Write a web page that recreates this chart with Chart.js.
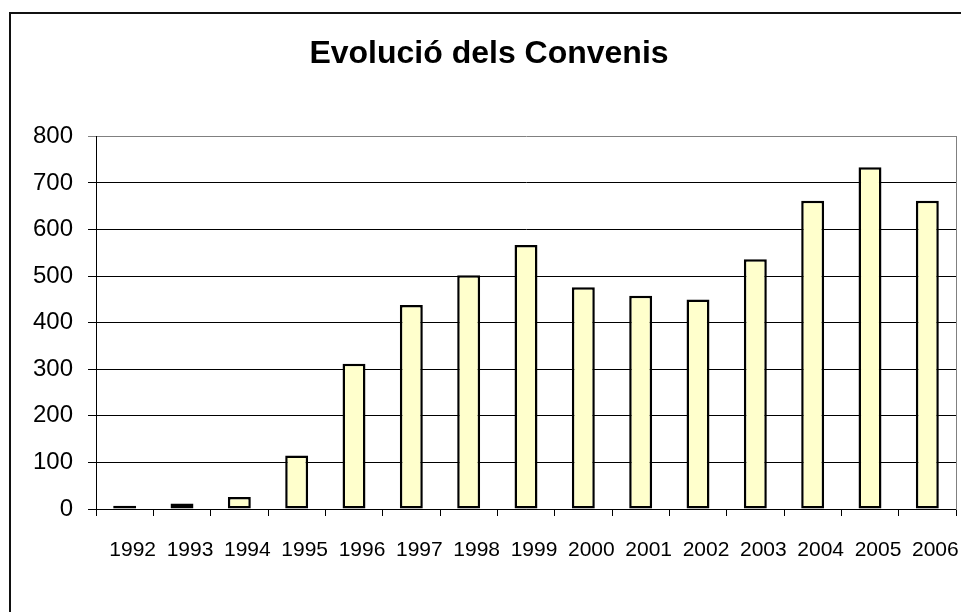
<!DOCTYPE html>
<html>
<head>
<meta charset="utf-8">
<script src="https://cdn.jsdelivr.net/npm/chart.js@4"></script>
<style>
  html, body { margin: 0; padding: 0; background: #fff; overflow: hidden; }
  #wrap { position: relative; width: 961px; height: 612px; }
  #frame { position: absolute; left: 9px; top: 12px; width: 1000px; height: 700px;
           border: 2px solid #111; pointer-events: none; }
</style>
</head>
<body>
<div id="wrap">
  <canvas id="chart" width="961" height="612"></canvas>
  <div id="frame"></div>
</div>
<script>
const years = ["1992", "1993", "1994", "1995", "1996", "1997", "1998", "1999",
               "2000", "2001", "2002", "2003", "2004", "2005", "2006"];
const convenis = [7, 12, 26, 115, 312, 438, 502, 567, 476, 458, 450, 536, 662, 734, 662];
const yTicks = [0, 100, 200, 300, 400, 500, 600, 700, 800];

document.addEventListener("DOMContentLoaded", function() {
    const ctx = document.getElementById('chart');

    new Chart(ctx, {
        type: 'bar',
        data: {
            labels: years,
            datasets: [{
                label: 'Convenis',
                data: convenis,
                backgroundColor: '#FFFFCC',
                borderColor: '#000',
                borderWidth: 2.5,
                borderSkipped: false,
                categoryPercentage: 1,
                barPercentage: 0.4,
            }]
        },
        options: {
            responsive: false,
            animation: false,
            layout: { padding: { left: 22, right: 5, top: 0, bottom: 0 } },
            plugins: {
                legend: { display: false },
                tooltip: { enabled: false },
                title: {
                    display: true,
                    text: 'Evolució dels Convenis',
                    color: '#000',
                    font: { family: 'Liberation Sans, Arial, sans-serif', size: 32, weight: 'bold' },
                    padding: { top: 35, bottom: 63 }
                }
            },
            scales: {
                x: {
                    grid: {
                        offset: true,
                        drawOnChartArea: false,
                        color: '#000',
                        tickLength: 7,
                    },
                    border: { color: '#000', width: 1 },
                    ticks: {
                        color: '#000',
                        padding: 22,
                        labelOffset: 8,
                        maxRotation: 0,
                        font: { family: 'Liberation Sans, Arial, sans-serif', size: 21 }
                    },
                    afterFit: function(scale) {
                        scale.height = 103;
                        scale.paddingLeft = 0;
                        scale.paddingRight = 0;
                    }
                },
                y: {
                    min: 0,
                    max: 800,
                    afterBuildTicks: function(scale) {
                        scale.ticks = yTicks.map(v => ({ value: v }));
                    },
                    grid: {
                        color: function(c) { return c.tick && c.tick.value === 800 ? '#808080' : '#000'; },
                        tickLength: 8,
                    },
                    border: { color: '#000', width: 1 },
                    ticks: {
                        color: '#000',
                        padding: 15,
                        font: { family: 'Liberation Sans, Arial, sans-serif', size: 24 }
                    },
                    afterFit: function(scale) {
                        scale.width = 74;
                        scale.paddingTop = 0;
                        scale.paddingBottom = 0;
                    }
                },
                yRight: {
                    position: 'right',
                    min: 0,
                    max: 800,
                    grid: { drawOnChartArea: false, drawTicks: false },
                    border: { color: '#808080', width: 1 },
                    ticks: { display: false },
                    afterFit: function(scale) { scale.width = 0; }
                }
            }
        }
    });
});
</script>
</body>
</html>
